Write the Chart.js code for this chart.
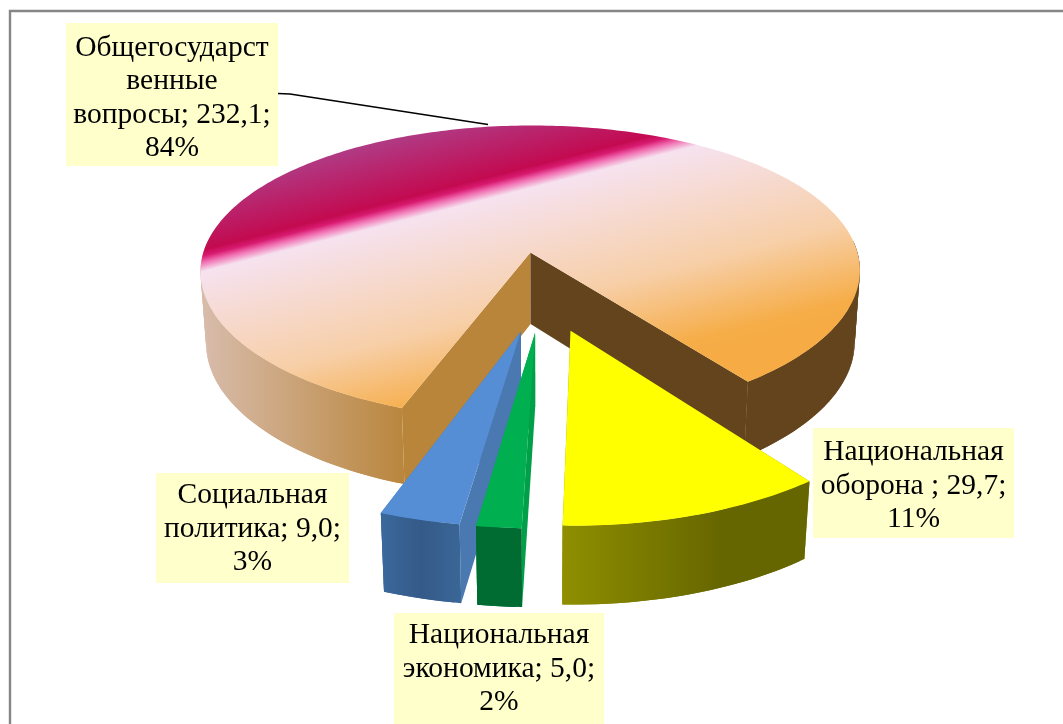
<!DOCTYPE html>
<html lang="ru">
<head>
<meta charset="utf-8">
<title>Расходы</title>
<script src="https://cdn.jsdelivr.net/npm/chart.js@4"></script>
<style>
  html, body { margin: 0; padding: 0; background: #fff; }
  canvas { display: block; }
</style>
</head>
<body>
<canvas id="pie3d" width="1063" height="724"></canvas>
<script>
// Input data
const categories = [
  ['Общегосударст', 'венные', 'вопросы'],
  ['Национальная', 'оборона '],
  ['Национальная', 'экономика'],
  ['Социальная', 'политика'],
];
const values = [232.1, 29.7, 5.0, 9.0];

// Slice colours
const topColors = ['#f6ad48', '#ffff00', '#00b050', '#558ed5'];
const faceColors = [['#b9853a', '#63441c'], ['#8f8f00', '#8f8f00'], ['#00a048', '#00a048'], ['#4a78b0', '#4a78b0']];
const wallStops = [
  [[0, '#d8bcac'], [0.315, '#b9853b'], [0.316, '#63441c'], [1, '#63441c']],
  [[0, '#8f8f00'], [0.65, '#666600'], [1, '#666600']],
  [[0, '#006c31'], [1, '#006c31']],
  [[0, '#3b689c'], [0.5, '#345a88'], [1, '#3a6798']],
];
const wallRange = [[200, 860], [561, 808], [475, 525], [381, 462]];

// Gradient of the big slice, stops are distances along its normal
const bigSliceStops = [
  [-75, '#b03a84'], [-14, '#c30a50'], [-8, '#d81a70'], [-2, '#f06cb0'], [7, '#f6e2ef'],
  [120, '#f7cfa8'], [195, '#f6ad48'], [215, '#f6ab44'],
];

// Projection of the tilted pie
const view = { cx: 543, cy: 291, f: 338, g: 155, h: 75, px: 0.13, py: 0.141, qx: 0.017, qy: 0.032 };
const explode = 0.26;
const startRotation = 200;

// Label boxes: left, top, right, bottom
const labelBoxes = [[66, 23, 278, 166], [813, 428, 1014, 538], [394, 613, 604, 724], [156, 473, 349, 583]];
const firstBaseline = [32.5, 32, 30, 30];
const labelFont = '29.5px "Liberation Serif", serif';
const lineStep = 33.6;

function project(u, v, z) {
  const wx = 1 - view.px * v + view.qx * z;
  const wy = 1 - view.py * v + view.qy * z;
  return [view.cx + view.f * u / wx, view.cy + (view.g * v + view.h * z) / wy];
}

function bigSliceGradient(ctx) {
  const nx = 0.247, ny = 0.969;
  const first = bigSliceStops[0][0];
  const last = bigSliceStops[bigSliceStops.length - 1][0];
  const grad = ctx.createLinearGradient(200 + nx * first, 265 + ny * first, 200 + nx * last, 265 + ny * last);
  bigSliceStops.forEach(([d, color]) => grad.addColorStop((d - first) / (last - first), color));
  return grad;
}

function fillPath(ctx, points, style) {
  ctx.beginPath();
  points.forEach((pt, i) => (i ? ctx.lineTo(pt[0], pt[1]) : ctx.moveTo(pt[0], pt[1])));
  ctx.closePath();
  ctx.fillStyle = style;
  ctx.fill();
}

// One slice: cut faces, outer wall, then the top
function drawSlice(ctx, arc, index) {
  const start = arc.startAngle, end = arc.endAngle;
  const mid = (start + end) / 2;
  const ou = explode * Math.cos(mid), ov = explode * Math.sin(mid);
  const rim = (a, z) => project(ou + Math.cos(a), ov + Math.sin(a), z);
  const apex = z => project(ou, ov, z);

  [[start, 0], [end, 1]].forEach(([a, k]) => {
    fillPath(ctx, [apex(0), rim(a, 0), rim(a, 1), apex(1)], faceColors[index][k]);
  });

  const wall = ctx.createLinearGradient(wallRange[index][0], 0, wallRange[index][1], 0);
  wallStops[index].forEach(([pos, color]) => wall.addColorStop(pos, color));

  // wall piece by piece, only the part that faces the viewer
  const steps = Math.ceil((end - start) * 180 / Math.PI);
  const upper = [];
  for (let i = 0; i <= steps; i += 1) {
    const a = start + (end - start) * i / steps;
    upper.push(rim(a, 0));
    if (i < steps && Math.sin(a) > -0.1) {
      const b = start + (end - start) * Math.min(i + 2, steps) / steps;
      fillPath(ctx, [rim(a, 0), rim(b, 0), rim(b, 1), rim(a, 1)], wall);
    }
  }

  fillPath(ctx, [apex(0)].concat(upper), arc.options.backgroundColor);
}

function formatValue(v) {
  return v.toFixed(1).replace('.', ',');
}

function labelLines(index, total) {
  const lines = categories[index].slice();
  lines[lines.length - 1] += '; ' + formatValue(values[index]) + ';';
  lines.push(Math.round(values[index] / total * 100) + '%');
  return lines;
}

const pie3dPlugin = {
  id: 'pie3d',
  beforeDatasetDraw(chart) {
    const ctx = chart.ctx;
    const arcs = chart.getDatasetMeta(0).data;
    ctx.save();
    // back to front
    [0, 3, 2, 1].forEach(i => drawSlice(ctx, arcs[i], i));
    ctx.restore();
    return false;
  },
  afterDraw(chart) {
    const ctx = chart.ctx;
    const total = values.reduce((a, b) => a + b, 0);
    ctx.save();

    // chart frame, only left and top are in the picture
    ctx.strokeStyle = '#868686';
    ctx.lineWidth = 2.4;
    ctx.beginPath();
    ctx.moveTo(10, 724);
    ctx.lineTo(10, 11);
    ctx.lineTo(1063, 11);
    ctx.stroke();

    // leader line of the first label
    ctx.strokeStyle = '#000';
    ctx.lineWidth = 1.5;
    ctx.beginPath();
    ctx.moveTo(278, 93.5);
    ctx.lineTo(290, 94);
    ctx.lineTo(488, 124.5);
    ctx.stroke();

    ctx.font = labelFont;
    ctx.textAlign = 'center';
    ctx.textBaseline = 'alphabetic';
    labelBoxes.forEach((box, i) => {
      ctx.fillStyle = '#ffffcc';
      ctx.fillRect(box[0], box[1], box[2] - box[0], box[3] - box[1]);
      ctx.fillStyle = '#000';
      labelLines(i, total).forEach((line, k) => {
        ctx.fillText(line, (box[0] + box[2]) / 2, box[1] + firstBaseline[i] + k * lineStep);
      });
    });
    ctx.restore();
  },
};

new Chart(document.getElementById('pie3d').getContext('2d'), {
  type: 'pie',
  data: {
    labels: categories.map(c => c.join(' ')),
    datasets: [{
      data: values,
      backgroundColor: c => (c.dataIndex === 0 ? bigSliceGradient(c.chart.ctx) : topColors[c.dataIndex]),
      borderWidth: 0,
    }],
  },
  options: {
    responsive: false,
    animation: false,
    rotation: startRotation,
    events: [],
    plugins: { legend: { display: false }, tooltip: { enabled: false } },
  },
  plugins: [pie3dPlugin],
});
</script>
</body>
</html>
